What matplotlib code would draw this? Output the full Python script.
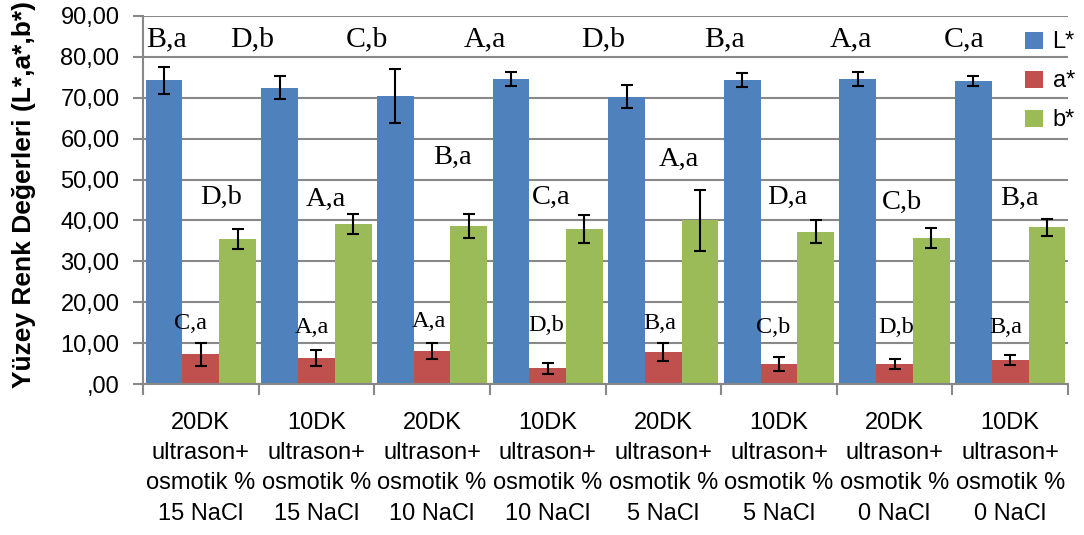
import numpy as np
import matplotlib
matplotlib.use("Agg")
import matplotlib.pyplot as plt
from matplotlib.ticker import FuncFormatter, MultipleLocator

categories = [
    "20DK\nultrason+\nosmotik %\n15 NaCl",
    "10DK\nultrason+\nosmotik %\n15 NaCl",
    "20DK\nultrason+\nosmotik %\n10 NaCl",
    "10DK\nultrason+\nosmotik %\n10 NaCl",
    "20DK\nultrason+\nosmotik %\n5 NaCl",
    "10DK\nultrason+\nosmotik %\n5 NaCl",
    "20DK\nultrason+\nosmotik %\n0 NaCl",
    "10DK\nultrason+\nosmotik %\n0 NaCl",
]

L_vals = [74.3, 72.5, 70.5, 74.6, 70.3, 74.4, 74.6, 74.1]
L_err = [3.3, 2.9, 6.6, 1.8, 2.85, 1.75, 1.6, 1.3]
a_vals = [7.3, 6.3, 8.1, 3.8, 7.9, 4.9, 4.9, 5.9]
a_err = [2.8, 2.0, 2.0, 1.35, 2.2, 1.7, 1.2, 1.15]
b_vals = [35.5, 39.1, 38.6, 37.9, 40.0, 37.2, 35.7, 38.3]
b_err = [2.5, 2.5, 3.0, 3.4, 7.5, 2.8, 2.4, 2.0]

L_letters = ["B,a", "D,b", "C,b", "A,a", "D,b", "B,a", "A,a", "C,a"]
a_letters = ["C,a", "A,a", "A,a", "D,b", "B,a", "C,b", "D,b", "B,a"]
b_letters = ["D,b", "A,a", "B,a", "C,a", "A,a", "D,a", "C,b", "B,a"]

# letter placement (x in category units, y in data units)
L_lab_x = [-0.30, 0.443, 1.438, 2.458, 3.48, 4.53, 5.62, 6.60]
L_lab_y = [84.4] * 8
b_lab_x = [0.175, 1.083, 2.173, 3.029, 4.137, 5.071, 6.066, 7.078]
b_lab_y = [45.7, 45.2, 55.5, 45.7, 55.0, 45.7, 44.5, 45.5]
a_lab_x = [-0.085, 0.962, 1.974, 2.986, 3.972, 4.95, 6.014, 6.965]
a_lab_y = [14.8, 13.9, 15.2, 14.4, 14.9, 13.9, 13.9, 13.9]

series_names = ["L*", "a*", "b*"]
colors = ["#4F81BD", "#C0504D", "#9BBB59"]

fig = plt.figure(figsize=(10.84, 5.35), dpi=100)
ax = fig.add_axes([143 / 1084, 1 - 384 / 535, (1068 - 143) / 1084, (384 - 16) / 535])

x = np.arange(len(categories))
w = 0.3175
grid_c = "#888888"

for k, (vals, errs) in enumerate([(L_vals, L_err), (a_vals, a_err), (b_vals, b_err)]):
    ax.bar(x + (k - 1) * w, vals, width=w, color=colors[k], label=series_names[k],
           zorder=2, edgecolor="none")
    ax.errorbar(x + (k - 1) * w, vals, yerr=errs, fmt="none", ecolor="black",
                elinewidth=1.5, capsize=4.3, capthick=1.5, zorder=3)

serif = "Liberation Serif"
for i in range(len(categories)):
    ax.text(L_lab_x[i], L_lab_y[i], L_letters[i], ha="center", va="center",
            fontsize=21.5, family=serif, zorder=4)
    ax.text(b_lab_x[i], b_lab_y[i], b_letters[i], ha="center", va="center",
            fontsize=20.5, family=serif, zorder=4)
    ax.text(a_lab_x[i], a_lab_y[i], a_letters[i], ha="center", va="center",
            fontsize=17.5, family=serif, zorder=4)

ax.set_xlim(-0.5, len(categories) - 0.5)
ax.set_ylim(0, 90)
ax.yaxis.set_major_locator(MultipleLocator(10))
ax.yaxis.set_major_formatter(FuncFormatter(
    lambda v, p: ",00" if v == 0 else f"{v:.2f}".replace(".", ",")))
ax.grid(axis="y", color=grid_c, linewidth=1.5, zorder=0)
ax.set_axisbelow(True)

for s in ["top", "right"]:
    ax.spines[s].set_visible(False)
for s in ["left", "bottom"]:
    ax.spines[s].set_color(grid_c)
    ax.spines[s].set_linewidth(1.5)

ax.set_xticks(x)
ax.set_xticklabels(categories, fontsize=17, family="Liberation Sans", linespacing=1.49)
ax.tick_params(axis="x", length=0, pad=20)
ax.set_xticks(np.arange(-0.5, len(categories) + 0.5, 1), minor=True)
ax.tick_params(axis="x", which="minor", length=8, width=1.5, color=grid_c)
ax.tick_params(axis="y", length=7, width=1.5, color=grid_c, pad=10,
               labelsize=17)
for t in ax.get_yticklabels():
    t.set_family("Liberation Sans")

fig.text(24 / 1084, 1 - 194 / 535, "Yüzey Renk Değerleri (L*,a*,b*)",
         rotation=90, ha="center", va="center", fontsize=19,
         fontweight="bold", family="Liberation Sans")

ax.legend(loc="upper left", bbox_to_anchor=(1016 / 1084, 1 - 22 / 535),
          bbox_transform=fig.transFigure, frameon=False,
          prop={"family": "Liberation Sans", "size": 17},
          handlelength=0.75, handleheight=0.75, handletextpad=0.4,
          labelspacing=0.72, borderaxespad=0)

fig.savefig("out.png", dpi=100)
